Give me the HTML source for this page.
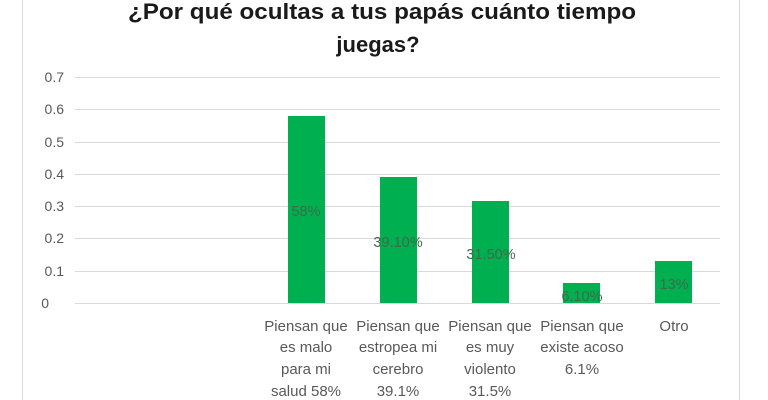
<!DOCTYPE html>
<html><head><meta charset="utf-8"><style>
html,body{margin:0;padding:0;background:#fff;}
body{width:768px;height:400px;overflow:hidden;position:relative;font-family:"Liberation Sans",sans-serif;}
</style></head><body>
<svg width="768" height="400" xmlns="http://www.w3.org/2000/svg" style="position:absolute;left:0;top:0">
<rect x="22.5" y="-5" width="717" height="420" fill="#fff" stroke="#d9d9d9"/>
<g font-family="Liberation Sans, sans-serif" font-weight="bold" font-size="22" fill="#1a1a1a" text-anchor="middle">
<text x="382" y="19" textLength="508" lengthAdjust="spacingAndGlyphs">¿Por qué ocultas a tus papás cuánto tiempo</text>
<text x="378" y="52">juegas?</text>
</g>
<g stroke="#d9d9d9" stroke-width="1">
<line x1="75" x2="720" y1="77.5" y2="77.5"/>
<line x1="75" x2="720" y1="109.5" y2="109.5"/>
<line x1="75" x2="720" y1="142.5" y2="142.5"/>
<line x1="75" x2="720" y1="174.5" y2="174.5"/>
<line x1="75" x2="720" y1="206.5" y2="206.5"/>
<line x1="75" x2="720" y1="238.5" y2="238.5"/>
<line x1="75" x2="720" y1="271.5" y2="271.5"/>
<line x1="75" x2="720" y1="303.5" y2="303.5"/>
</g>
<g font-size="14" fill="#595959" text-anchor="end">
<text x="64" y="82">0.7</text><text x="64" y="114">0.6</text><text x="64" y="147">0.5</text>
<text x="64" y="179">0.4</text><text x="64" y="211">0.3</text><text x="64" y="243">0.2</text>
<text x="64" y="276">0.1</text><text x="49" y="308">0</text>
</g>
<g fill="#00b050">
<rect x="288" y="116" width="37" height="187"/>
<rect x="380" y="177" width="37" height="126"/>
<rect x="472" y="201" width="37" height="102"/>
<rect x="563" y="283" width="37" height="20"/>
<rect x="655" y="261" width="37" height="42"/>
</g>
<g font-size="14.5" fill="#3d6b4a" text-anchor="middle">
<text x="306" y="216">58%</text>
<text x="398" y="247">39.10%</text>
<text x="491" y="259">31.50%</text>
<text x="582" y="301">6.10%</text>
<text x="674" y="289">13%</text>
</g>
<g font-size="15" fill="#595959" text-anchor="middle">
<text x="306" y="331">Piensan que</text><text x="306" y="352">es malo</text><text x="306" y="374">para mi</text><text x="306" y="396">salud 58%</text>
<text x="398" y="331">Piensan que</text><text x="398" y="352">estropea mi</text><text x="398" y="374">cerebro</text><text x="398" y="396">39.1%</text>
<text x="490" y="331">Piensan que</text><text x="490" y="352">es muy</text><text x="490" y="374">violento</text><text x="490" y="396">31.5%</text>
<text x="582" y="331">Piensan que</text><text x="582" y="352">existe acoso</text><text x="582" y="374">6.1%</text>
<text x="674" y="331">Otro</text>
</g>
</svg>
</body></html>
